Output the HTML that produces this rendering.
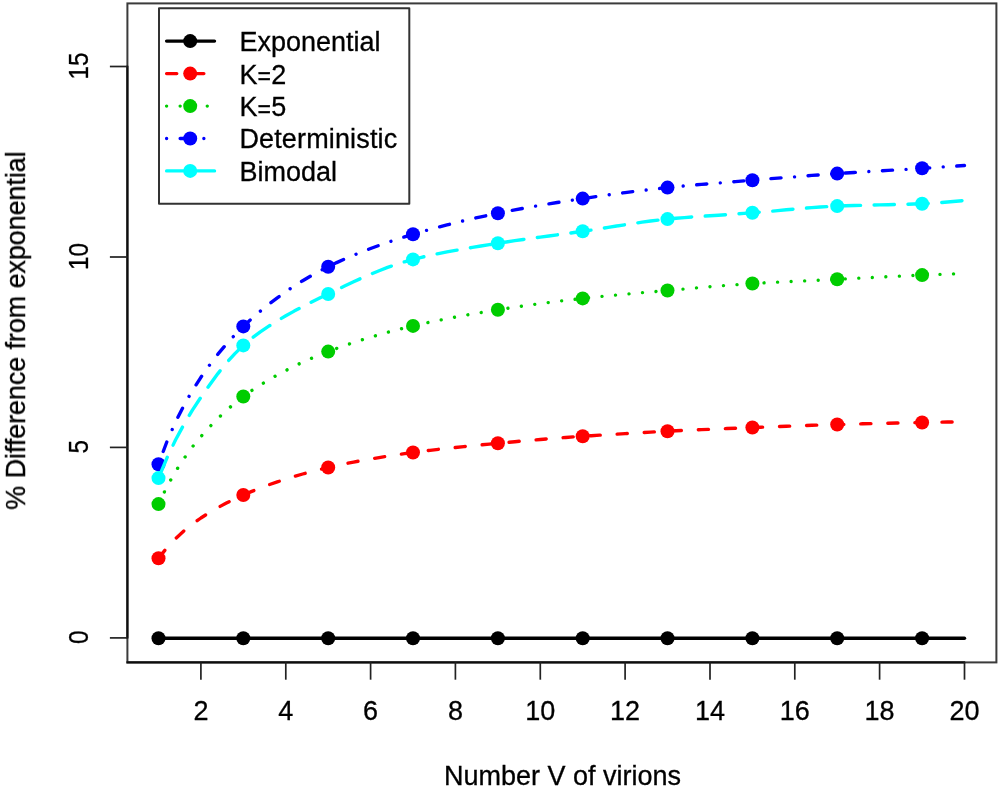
<!DOCTYPE html>
<html><head><meta charset="utf-8"><title>plot</title>
<style>html,body{margin:0;padding:0;background:#fff}svg{display:block}text{font-family:"Liberation Sans",sans-serif;font-size:27px;fill:#000;stroke:#000;stroke-width:0.3px}</style></head>
<body>
<svg width="1000" height="790" viewBox="0 0 1000 790">
<defs><filter id="soft" x="0" y="0" width="1000" height="790" filterUnits="userSpaceOnUse"><feGaussianBlur stdDeviation="0.7"/></filter></defs>
<rect width="1000" height="790" fill="#fff"/>
<g filter="url(#soft)">
<g fill="none" stroke-width="3.375" stroke-linecap="round" stroke-linejoin="round">
<path d="M158.5 638.2L964.5 638.2" stroke="#000"/>
</g>
<circle cx="158.5" cy="638.2" r="7.0" fill="#000"/><circle cx="243.3" cy="638.2" r="7.0" fill="#000"/><circle cx="328.2" cy="638.2" r="7.0" fill="#000"/><circle cx="413.0" cy="638.2" r="7.0" fill="#000"/><circle cx="497.9" cy="638.2" r="7.0" fill="#000"/><circle cx="582.7" cy="638.2" r="7.0" fill="#000"/><circle cx="667.5" cy="638.2" r="7.0" fill="#000"/><circle cx="752.4" cy="638.2" r="7.0" fill="#000"/><circle cx="837.2" cy="638.2" r="7.0" fill="#000"/><circle cx="922.1" cy="638.2" r="7.0" fill="#000"/>
<circle cx="158.5" cy="558.3" r="7.0" fill="#ff0000"/><circle cx="243.3" cy="495.0" r="7.0" fill="#ff0000"/><circle cx="328.2" cy="467.5" r="7.0" fill="#ff0000"/><circle cx="413.0" cy="452.5" r="7.0" fill="#ff0000"/><circle cx="497.9" cy="443.2" r="7.0" fill="#ff0000"/><circle cx="582.7" cy="436.2" r="7.0" fill="#ff0000"/><circle cx="667.5" cy="431.2" r="7.0" fill="#ff0000"/><circle cx="752.4" cy="427.5" r="7.0" fill="#ff0000"/><circle cx="837.2" cy="424.5" r="7.0" fill="#ff0000"/><circle cx="922.1" cy="422.5" r="7.0" fill="#ff0000"/>
<path d="M158.5 558.3 L167.0 547.6 L175.5 538.6 L184.0 530.9 L192.4 524.1 L200.9 518.0 L209.4 512.5 L217.9 507.6 L226.4 503.0 L234.9 498.8 L243.3 495.0 L251.8 491.4 L260.3 488.0 L268.8 484.8 L277.3 481.9 L285.8 479.1 L294.2 476.4 L302.7 474.0 L311.2 471.7 L319.7 469.5 L328.2 467.5 L336.7 465.6 L345.1 463.8 L353.6 462.1 L362.1 460.5 L370.6 459.0 L379.1 457.6 L387.6 456.2 L396.1 454.9 L404.5 453.7 L413.0 452.5 L421.5 451.4 L430.0 450.3 L438.5 449.3 L447.0 448.4 L455.4 447.5 L463.9 446.6 L472.4 445.7 L480.9 444.9 L489.4 444.1 L497.9 443.2 L506.3 442.5 L514.8 441.7 L523.3 440.9 L531.8 440.2 L540.3 439.5 L548.8 438.8 L557.2 438.1 L565.7 437.5 L574.2 436.8 L582.7 436.2 L591.2 435.7 L599.7 435.1 L608.2 434.6 L616.6 434.1 L625.1 433.6 L633.6 433.1 L642.1 432.6 L650.6 432.1 L659.1 431.7 L667.5 431.2 L676.0 430.8 L684.5 430.4 L693.0 430.0 L701.5 429.6 L710.0 429.3 L718.4 428.9 L726.9 428.5 L735.4 428.2 L743.9 427.8 L752.4 427.5 L760.9 427.2 L769.3 426.8 L777.8 426.5 L786.3 426.2 L794.8 425.9 L803.3 425.6 L811.8 425.3 L820.3 425.0 L828.7 424.7 L837.2 424.5 L845.7 424.3 L854.2 424.0 L862.7 423.8 L871.2 423.6 L879.6 423.4 L888.1 423.2 L896.6 423.0 L905.1 422.9 L913.6 422.7 L922.1 422.5 L930.5 422.3 L939.0 422.2 L947.5 422.0 L956.0 421.9 L964.5 421.7" fill="none" stroke="#ff0000" stroke-width="3.375" stroke-linecap="round" stroke-linejoin="round" stroke-dasharray="10.16 16.93" stroke-dashoffset="0.0"/>
<circle cx="158.5" cy="504.1" r="7.0" fill="#00cd00"/><circle cx="243.3" cy="396.5" r="7.0" fill="#00cd00"/><circle cx="328.2" cy="351.6" r="7.0" fill="#00cd00"/><circle cx="413.0" cy="325.9" r="7.0" fill="#00cd00"/><circle cx="497.9" cy="309.8" r="7.0" fill="#00cd00"/><circle cx="582.7" cy="298.4" r="7.0" fill="#00cd00"/><circle cx="667.5" cy="290.5" r="7.0" fill="#00cd00"/><circle cx="752.4" cy="283.5" r="7.0" fill="#00cd00"/><circle cx="837.2" cy="279.3" r="7.0" fill="#00cd00"/><circle cx="922.1" cy="275.1" r="7.0" fill="#00cd00"/>
<path d="M158.5 504.1 L167.0 486.5 L175.5 471.5 L184.0 458.5 L192.4 446.9 L200.9 436.6 L209.4 427.1 L217.9 418.4 L226.4 410.3 L234.9 403.1 L243.3 396.5 L251.8 390.5 L260.3 385.0 L268.8 379.8 L277.3 375.0 L285.8 370.5 L294.2 366.2 L302.7 362.2 L311.2 358.5 L319.7 354.9 L328.2 351.6 L336.7 348.4 L345.1 345.4 L353.6 342.5 L362.1 339.8 L370.6 337.2 L379.1 334.7 L387.6 332.3 L396.1 330.1 L404.5 327.9 L413.0 325.9 L421.5 324.0 L430.0 322.1 L438.5 320.4 L447.0 318.7 L455.4 317.1 L463.9 315.5 L472.4 314.0 L480.9 312.6 L489.4 311.2 L497.9 309.8 L506.3 308.5 L514.8 307.2 L523.3 306.0 L531.8 304.8 L540.3 303.6 L548.8 302.5 L557.2 301.4 L565.7 300.4 L574.2 299.4 L582.7 298.4 L591.2 297.5 L599.7 296.6 L608.2 295.8 L616.6 295.0 L625.1 294.2 L633.6 293.5 L642.1 292.7 L650.6 292.0 L659.1 291.2 L667.5 290.5 L676.0 289.7 L684.5 289.0 L693.0 288.2 L701.5 287.5 L710.0 286.7 L718.4 286.0 L726.9 285.3 L735.4 284.7 L743.9 284.1 L752.4 283.5 L760.9 283.0 L769.3 282.5 L777.8 282.1 L786.3 281.7 L794.8 281.3 L803.3 280.9 L811.8 280.5 L820.3 280.1 L828.7 279.7 L837.2 279.3 L845.7 278.9 L854.2 278.4 L862.7 278.0 L871.2 277.6 L879.6 277.1 L888.1 276.7 L896.6 276.3 L905.1 275.9 L913.6 275.5 L922.1 275.1 L930.5 274.8 L939.0 274.4 L947.5 274.1 L956.0 273.8 L964.5 273.5" fill="none" stroke="#00cd00" stroke-width="3.375" stroke-linecap="round" stroke-linejoin="round" stroke-dasharray="0.01 13.54" stroke-dashoffset="0.0"/>
<circle cx="158.5" cy="464.2" r="7.0" fill="#0000ff"/><circle cx="243.3" cy="326.4" r="7.0" fill="#0000ff"/><circle cx="328.2" cy="266.7" r="7.0" fill="#0000ff"/><circle cx="413.0" cy="234.3" r="7.0" fill="#0000ff"/><circle cx="497.9" cy="213.2" r="7.0" fill="#0000ff"/><circle cx="582.7" cy="198.6" r="7.0" fill="#0000ff"/><circle cx="667.5" cy="187.6" r="7.0" fill="#0000ff"/><circle cx="752.4" cy="180.2" r="7.0" fill="#0000ff"/><circle cx="837.2" cy="173.6" r="7.0" fill="#0000ff"/><circle cx="922.1" cy="168.3" r="7.0" fill="#0000ff"/>
<path d="M158.5 464.2 L167.0 441.4 L175.5 422.0 L184.0 405.3 L192.4 390.5 L200.9 377.3 L209.4 365.3 L217.9 354.2 L226.4 344.1 L234.9 334.9 L243.3 326.4 L251.8 318.6 L260.3 311.2 L268.8 304.3 L277.3 297.8 L285.8 291.7 L294.2 286.0 L302.7 280.7 L311.2 275.7 L319.7 271.0 L328.2 266.7 L336.7 262.6 L345.1 258.8 L353.6 255.2 L362.1 251.8 L370.6 248.5 L379.1 245.4 L387.6 242.4 L396.1 239.6 L404.5 236.9 L413.0 234.3 L421.5 231.8 L430.0 229.4 L438.5 227.1 L447.0 224.9 L455.4 222.7 L463.9 220.7 L472.4 218.7 L480.9 216.8 L489.4 215.0 L497.9 213.2 L506.3 211.5 L514.8 209.9 L523.3 208.3 L531.8 206.8 L540.3 205.3 L548.8 203.9 L557.2 202.5 L565.7 201.2 L574.2 199.9 L582.7 198.6 L591.2 197.4 L599.7 196.1 L608.2 194.9 L616.6 193.8 L625.1 192.6 L633.6 191.5 L642.1 190.5 L650.6 189.5 L659.1 188.5 L667.5 187.6 L676.0 186.7 L684.5 185.9 L693.0 185.1 L701.5 184.4 L710.0 183.7 L718.4 183.0 L726.9 182.3 L735.4 181.6 L743.9 180.9 L752.4 180.2 L760.9 179.5 L769.3 178.8 L777.8 178.1 L786.3 177.4 L794.8 176.8 L803.3 176.1 L811.8 175.4 L820.3 174.8 L828.7 174.2 L837.2 173.6 L845.7 173.0 L854.2 172.5 L862.7 171.9 L871.2 171.4 L879.6 170.9 L888.1 170.4 L896.6 169.9 L905.1 169.4 L913.6 168.8 L922.1 168.3 L930.5 167.8 L939.0 167.2 L947.5 166.6 L956.0 166.1 L964.5 165.5" fill="none" stroke="#0000ff" stroke-width="3.375" stroke-linecap="round" stroke-linejoin="round" stroke-dasharray="0.01 13.54 10.16 13.54" stroke-dashoffset="0.0"/>
<circle cx="158.5" cy="478.1" r="7.0" fill="#00ffff"/><circle cx="243.3" cy="345.4" r="7.0" fill="#00ffff"/><circle cx="328.2" cy="294.0" r="7.0" fill="#00ffff"/><circle cx="413.0" cy="259.4" r="7.0" fill="#00ffff"/><circle cx="497.9" cy="243.3" r="7.0" fill="#00ffff"/><circle cx="582.7" cy="231.3" r="7.0" fill="#00ffff"/><circle cx="667.5" cy="219.1" r="7.0" fill="#00ffff"/><circle cx="752.4" cy="212.8" r="7.0" fill="#00ffff"/><circle cx="837.2" cy="206.1" r="7.0" fill="#00ffff"/><circle cx="922.1" cy="203.7" r="7.0" fill="#00ffff"/>
<path d="M158.5 478.1 L167.0 457.8 L175.5 440.0 L184.0 424.3 L192.4 410.1 L200.9 397.3 L209.4 385.2 L217.9 373.6 L226.4 363.0 L234.9 353.6 L243.3 345.4 L251.8 338.3 L260.3 331.9 L268.8 326.2 L277.3 320.8 L285.8 315.8 L294.2 311.1 L302.7 306.6 L311.2 302.3 L319.7 298.1 L328.2 294.0 L336.7 289.9 L345.1 285.8 L353.6 281.8 L362.1 277.9 L370.6 274.2 L379.1 270.7 L387.6 267.4 L396.1 264.5 L404.5 261.8 L413.0 259.4 L421.5 257.3 L430.0 255.3 L438.5 253.6 L447.0 251.9 L455.4 250.4 L463.9 248.9 L472.4 247.4 L480.9 246.0 L489.4 244.7 L497.9 243.3 L506.3 242.0 L514.8 240.7 L523.3 239.5 L531.8 238.3 L540.3 237.1 L548.8 236.0 L557.2 234.8 L565.7 233.7 L574.2 232.5 L582.7 231.3 L591.2 230.1 L599.7 228.7 L608.2 227.4 L616.6 226.0 L625.1 224.7 L633.6 223.4 L642.1 222.2 L650.6 221.0 L659.1 220.0 L667.5 219.1 L676.0 218.3 L684.5 217.6 L693.0 216.9 L701.5 216.3 L710.0 215.7 L718.4 215.2 L726.9 214.6 L735.4 214.0 L743.9 213.4 L752.4 212.8 L760.9 212.1 L769.3 211.4 L777.8 210.6 L786.3 209.8 L794.8 209.1 L803.3 208.3 L811.8 207.6 L820.3 207.0 L828.7 206.5 L837.2 206.1 L845.7 205.8 L854.2 205.5 L862.7 205.3 L871.2 205.1 L879.6 204.9 L888.1 204.7 L896.6 204.5 L905.1 204.3 L913.6 204.0 L922.1 203.7 L930.5 203.3 L939.0 202.7 L947.5 202.0 L956.0 201.3 L964.5 200.5" fill="none" stroke="#00ffff" stroke-width="3.375" stroke-linecap="round" stroke-linejoin="round" stroke-dasharray="20.32 13.54" stroke-dashoffset="-2.2"/>
<rect x="127.4" y="3.4" width="869.0" height="659.0" fill="none" stroke="#3a3a3a" stroke-width="2"/>
<g stroke="#222" stroke-width="1.7" fill="none">
<path d="M126.4 662.4H965.2" stroke="#111" stroke-width="2.2"/>
<path d="M200.9 662.4v17.3"/>
<path d="M285.8 662.4v17.3"/>
<path d="M370.6 662.4v17.3"/>
<path d="M455.4 662.4v17.3"/>
<path d="M540.3 662.4v17.3"/>
<path d="M625.1 662.4v17.3"/>
<path d="M710.0 662.4v17.3"/>
<path d="M794.8 662.4v17.3"/>
<path d="M879.6 662.4v17.3"/>
<path d="M964.5 662.4v17.3"/>
<path d="M127.4 638.6V65.8" stroke="#111" stroke-width="2.2"/>
<path d="M127.4 637.9h-17.5"/>
<path d="M127.4 447.4h-17.5"/>
<path d="M127.4 257.0h-17.5"/>
<path d="M127.4 66.5h-17.5"/>
</g>
<text x="200.9" y="720.2" text-anchor="middle">2</text>
<text x="285.8" y="720.2" text-anchor="middle">4</text>
<text x="370.6" y="720.2" text-anchor="middle">6</text>
<text x="455.4" y="720.2" text-anchor="middle">8</text>
<text x="540.3" y="720.2" text-anchor="middle">10</text>
<text x="625.1" y="720.2" text-anchor="middle">12</text>
<text x="710.0" y="720.2" text-anchor="middle">14</text>
<text x="794.8" y="720.2" text-anchor="middle">16</text>
<text x="879.6" y="720.2" text-anchor="middle">18</text>
<text x="964.5" y="720.2" text-anchor="middle">20</text>
<text transform="translate(88.3 637.3) rotate(-90) scale(0.9 1)" text-anchor="middle">0</text>
<text transform="translate(88.3 446.8) rotate(-90) scale(0.9 1)" text-anchor="middle">5</text>
<text transform="translate(88.3 256.4) rotate(-90) scale(0.9 1)" text-anchor="middle">10</text>
<text transform="translate(88.3 65.9) rotate(-90) scale(0.9 1)" text-anchor="middle">15</text>
<text x="562.5" y="784.6" text-anchor="middle">Number V of virions</text>
<text transform="translate(25.0 330.6) rotate(-90)" text-anchor="middle" letter-spacing="-0.1">% Difference from exponential</text>
<rect x="159" y="8.2" width="250.3" height="195.6" fill="#fff" stroke="#333" stroke-width="2" stroke-linejoin="round"/>
<path d="M166.6 41.1H214.5" fill="none" stroke="#000" stroke-width="3.375" stroke-linecap="round"/>
<circle cx="190.2" cy="41.1" r="7.0" fill="#000"/>
<text x="239.4" y="51.0">Exponential</text>
<path d="M166.6 73.6H214.5" fill="none" stroke="#ff0000" stroke-width="3.375" stroke-linecap="round" stroke-dasharray="10.16 16.93"/>
<circle cx="190.2" cy="73.6" r="7.0" fill="#ff0000"/>
<text x="239.4" y="83.5">K<tspan font-size="23" dy="0.8">=</tspan><tspan dy="-0.8" dx="0.3">2</tspan></text>
<path d="M166.6 106.1H214.5" fill="none" stroke="#00cd00" stroke-width="3.375" stroke-linecap="round" stroke-dasharray="0.01 13.54"/>
<circle cx="190.2" cy="106.1" r="7.0" fill="#00cd00"/>
<text x="239.4" y="116.0">K<tspan font-size="23" dy="0.8">=</tspan><tspan dy="-0.8" dx="0.3">5</tspan></text>
<path d="M166.6 138.5H214.5" fill="none" stroke="#0000ff" stroke-width="3.375" stroke-linecap="round" stroke-dasharray="0.01 13.54 10.16 13.54"/>
<circle cx="190.2" cy="138.5" r="7.0" fill="#0000ff"/>
<text x="239.4" y="148.4"><tspan letter-spacing="0.15">Deterministic</tspan></text>
<path d="M166.6 170.9H214.5" fill="none" stroke="#00ffff" stroke-width="3.375" stroke-linecap="round"/>
<circle cx="190.2" cy="170.9" r="7.0" fill="#00ffff"/>
<text x="239.4" y="180.8">Bimodal</text>
</g>
</svg>
</body></html>
